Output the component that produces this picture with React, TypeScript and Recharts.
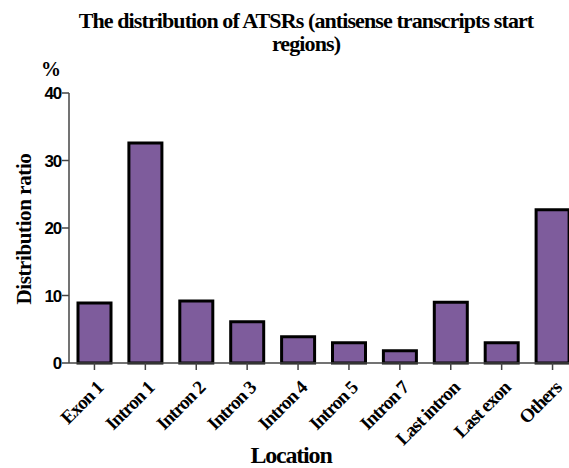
import { BarChart, Bar, XAxis, YAxis } from "recharts";

const locations = [
  "Exon 1",
  "Intron 1",
  "Intron 2",
  "Intron 3",
  "Intron 4",
  "Intron 5",
  "Intron 7",
  "Last intron",
  "Last exon",
  "Others",
];
const ratios = [8.9, 32.6, 9.2, 6.1, 3.9, 3.0, 1.8, 9.0, 3.0, 22.7];
const yTicks = [0, 10, 20, 30, 40];

const data = locations.map((loc, i) => ({ loc, ratio: ratios[i] }));

const serif = "'Liberation Serif', 'Times New Roman', serif";
const sans = "'Liberation Sans', Arial, sans-serif";

function XTick(props: any) {
  const { x, y, payload } = props;
  return (
    <text
      transform={`translate(${x + 10}, ${y + 17}) rotate(-45)`}
      textAnchor="end"
      fontFamily={serif}
      fontWeight="bold"
      fontSize={19}
      letterSpacing={-0.9}
      fill="#000"
    >
      {payload.value}
    </text>
  );
}

export default function App() {
  return (
    <div
      style={{
        position: "absolute",
        left: 0,
        top: 0,
        width: 569,
        height: 468,
        overflow: "hidden",
        background: "#fff",
      }}
    >
      <div
        style={{
          position: "absolute",
          left: -4,
          top: 9,
          width: 620,
          textAlign: "center",
          fontFamily: serif,
          fontWeight: "bold",
          fontSize: 22,
          letterSpacing: -0.9,
          lineHeight: "23px",
        }}
      >
        The distribution of ATSRs (antisense transcripts start
        <br />
        regions)
      </div>
      <div
        style={{
          position: "absolute",
          left: 41,
          top: 58,
          fontFamily: serif,
          fontWeight: "bold",
          fontSize: 20,
        }}
      >
        %
      </div>
      <div
        style={{
          position: "absolute",
          left: 24,
          top: 229,
          transform: "translate(-50%, -50%) rotate(-90deg)",
          whiteSpace: "nowrap",
          fontFamily: serif,
          fontWeight: "bold",
          fontSize: 21,
          letterSpacing: -0.4,
        }}
      >
        Distribution ratio
      </div>
      <div
        style={{
          position: "absolute",
          left: 291,
          top: 455,
          transform: "translate(-50%, -50%)",
          fontFamily: serif,
          fontWeight: "bold",
          fontSize: 24,
          letterSpacing: -1.2,
        }}
      >
        Location
      </div>
      <div style={{ position: "absolute", left: 0, top: 0 }}>
        <BarChart
          width={580}
          height={468}
          data={data}
          margin={{ top: 93, right: 2, bottom: 0, left: 0 }}
        >
          <YAxis
            width={69}
            domain={[0, 40]}
            ticks={yTicks}
            tickSize={7}
            tickMargin={1}
            stroke="#444"
            strokeWidth={1.5}
            tick={{
              fill: "#000",
              fontFamily: sans,
              fontWeight: "bold",
              fontSize: 17,
              letterSpacing: -1.2,
            }}
          />
          <XAxis
            dataKey="loc"
            height={105}
            interval={0}
            tickSize={7}
            stroke="#444"
            strokeWidth={1.5}
            tick={<XTick />}
          />
          <Bar
            dataKey="ratio"
            fill="#7E5C9C"
            stroke="#000"
            strokeWidth={3}
            barSize={33}
            isAnimationActive={false}
          />
        </BarChart>
      </div>
    </div>
  );
}
